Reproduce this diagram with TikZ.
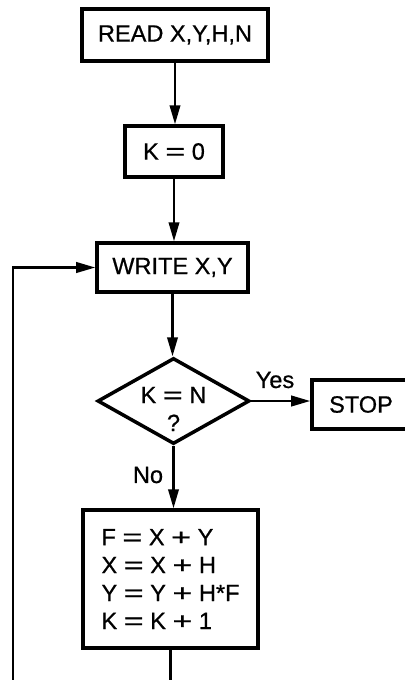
\documentclass[tikz,border=0pt]{standalone}
\usepackage{fontspec}
\usepackage{graphicx}
\setmainfont{Liberation Sans}[FakeBold=0.7]
\usetikzlibrary{arrows.meta,shapes.geometric}
% wide operator signs, as in the equations of the flowchart
\newcommand{\opeq}{\scalebox{1.45}[1]{=}}
\newcommand{\opplus}{\scalebox{1.45}[1]{+}}
\begin{document}
\begin{tikzpicture}[x=0.02cm,y=-0.02cm,
  txt/.style={font=\fontsize{13.4}{15.9}\selectfont},
  box/.style={draw,line width=2pt,inner sep=0pt,txt},
  cond/.style={draw,diamond,line width=2pt,inner sep=0pt},
  conn/.style={line width=1.3pt,-{Triangle[length=0.38cm,width=0.21cm]}}]
\useasboundingbox (0,0) rectangle (405,680);
\clip (0,0) rectangle (405,680);
\fill[white] (0,0) rectangle (405,680);

% boxes of the main column
\node[box,minimum width=186*0.02cm,minimum height=52*0.02cm] (read) at (175,35) {READ X,Y,H,N};
\node[box,minimum width=98*0.02cm,minimum height=51*0.02cm] (kzero) at (174,151.5) {K \opeq{} 0};
\node[box,minimum width=151*0.02cm,minimum height=49*0.02cm] (write) at (172.5,267.5) {WRITE X,Y};
\node[cond,minimum width=152*0.02cm,minimum height=86*0.02cm] (test) at (173.5,401) {};
\node[txt,align=center,inner sep=0pt] (testtxt) at (173.5,409) {K \opeq{} N\\?};
\node[box,minimum width=98*0.02cm,minimum height=49*0.02cm] (stop) at (361,404.5) {STOP};
\node[box,align=left,minimum width=175*0.02cm,minimum height=138*0.02cm] (calc) at (170.5,579)
  {F \opeq{} X \opplus{} Y\\X \opeq{} X \opplus{} H\\Y \opeq{} Y \opplus{} H*F\\K \opeq{} K \opplus{} 1};

% connectors
\draw[conn] (read.south) -- (read.south |- kzero.north);
\draw[conn] (kzero.south) -- (kzero.south |- write.north);
\draw[conn] (write.south) -- (write.south |- test.north);
\draw[conn] (test.east) -- (test.east -| stop.west);
\draw[conn] (test.south) -- (test.south |- calc.north);

% loop back to the output step
\coordinate (lowcorner) at (13,700);
\draw[conn] (calc.south) |- (lowcorner) |- (write.west);

% branch labels
\node[txt,inner sep=0pt] (yes) at (275,380) {Yes};
\node[txt,inner sep=0pt] (no) at (148,475) {No};
\end{tikzpicture}
\end{document}
